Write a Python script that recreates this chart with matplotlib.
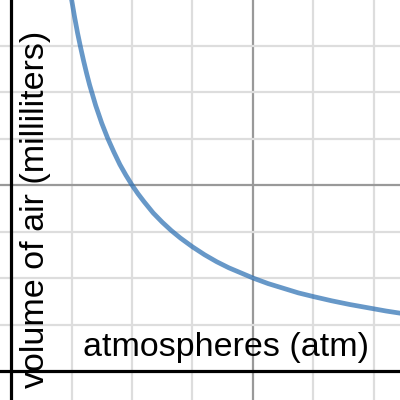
import matplotlib.pyplot as plt
import numpy as np

plt.rcParams['font.family'] = ['Liberation Sans', 'DejaVu Sans']

# Points (grid units)
pressure = [0.95, 1.0, 1.05, 1.1, 1.15, 1.2, 1.25, 1.3, 1.35, 1.4, 1.45, 1.5,
            1.6, 1.7, 1.8, 1.9, 2.0, 2.1, 2.2, 2.35, 2.5, 2.65, 2.8, 3.0,
            3.2, 3.4, 3.6, 3.8, 4.0, 4.25, 4.5, 4.75, 5.0, 5.3, 5.6, 5.9,
            6.2, 6.5]
volume = [8.42, 8.0, 7.62, 7.27, 6.96, 6.67, 6.4, 6.15, 5.93, 5.71, 5.52, 5.33,
          5.0, 4.71, 4.44, 4.21, 4.0, 3.81, 3.64, 3.40, 3.2, 3.02, 2.86, 2.67,
          2.5, 2.35, 2.22, 2.11, 2.0, 1.88, 1.78, 1.68, 1.6, 1.51, 1.43, 1.36,
          1.29, 1.23]

x_label = 'atmospheres (atm)'
y_label = 'volume of air (milliliters)'

fig = plt.figure(figsize=(4, 4), dpi=100)
ax = fig.add_axes([0, 0, 1, 1])
ax.set_xlim(-0.182, 6.43)
ax.set_ylim(-0.624, 7.98)

# grid
for gx in range(1, 7):
    major = gx % 4 == 0
    ax.axvline(gx, color='#999999' if major else '#dddddd', lw=1.6, zorder=1)
for gy in range(1, 8):
    major = gy % 4 == 0
    ax.axhline(gy, color='#999999' if major else '#dddddd', lw=1.6, zorder=1)

# axes
ax.axvline(0, color='black', lw=2.3, zorder=2)
ax.axhline(0, color='black', lw=2.3, zorder=2)

ax.plot(pressure, volume, color='#2d70b3', alpha=0.72, lw=3.4,
        solid_capstyle='butt', solid_joinstyle='round', zorder=3)

ax.text(0.566, 0.11, x_label, transform=ax.transAxes, fontsize=24.5,
        ha='center', va='baseline', zorder=4)
ax.text(0.11, 0.477, y_label, transform=ax.transAxes, fontsize=24.5,
        ha='center', va='baseline', rotation=90, rotation_mode='anchor', zorder=4)

ax.set_xticks([])
ax.set_yticks([])
for s in ax.spines.values():
    s.set_visible(False)

fig.savefig('out.png', dpi=100)
